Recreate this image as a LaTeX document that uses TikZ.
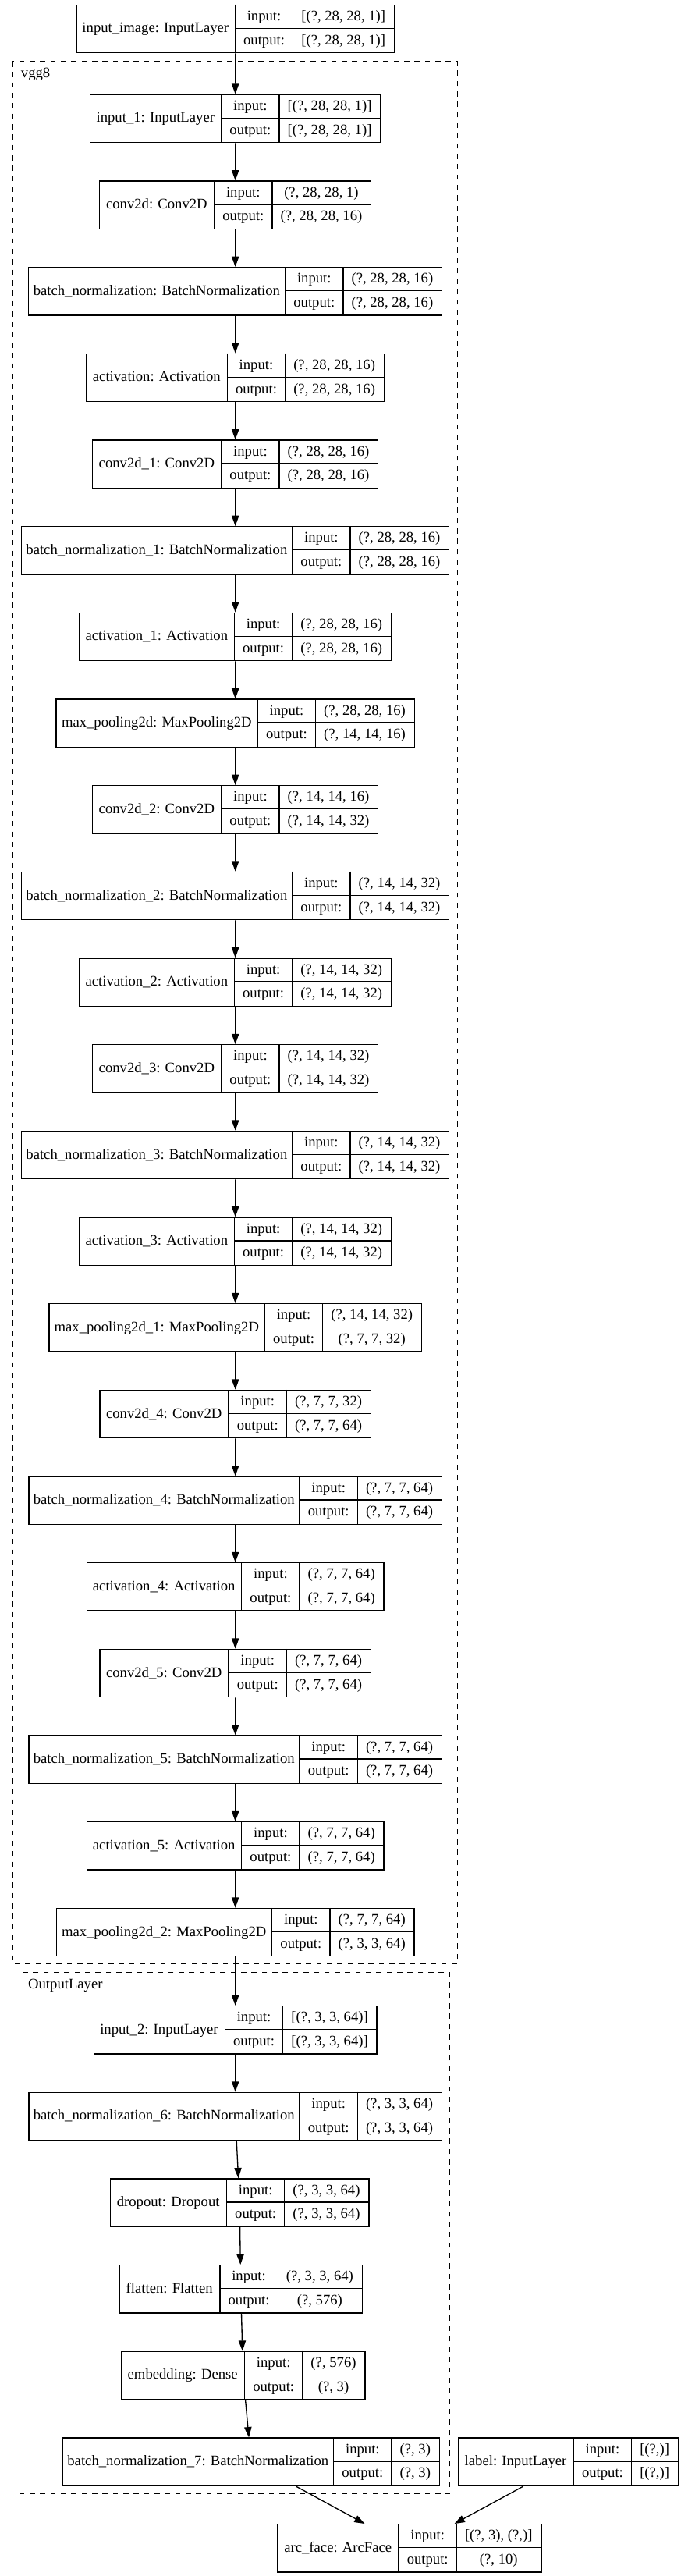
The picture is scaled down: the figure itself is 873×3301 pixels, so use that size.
\documentclass[tikz,border=0pt]{standalone}
\usepackage{fontspec}
\setmainfont{Liberation Serif}
\usetikzlibrary{arrows.meta}
\newlength\lpx \lpx=0.75pt
\newlength\lwa \newlength\lwb \newlength\lwc \newlength\lwt \newlength\ltot
\newlength\lxl \newlength\lxa \newlength\lxb \newlength\lxr
\newlength\lyt \newlength\lym \newlength\lyb
\newlength\lca \newlength\lcb \newlength\lcc
\newlength\lbu \newlength\lbd \newlength\lbc
\newcommand\lfont{\fontsize{14pt}{16.8pt}\selectfont}
% #1 name, #2 centre x (px), #3 top y (px), #4 label, #5 input shape, #6 output shape
\newcommand\layer[6]{%
  \settowidth\lwa{\lmeasurefont #4}\lwa=0.975\lwa \addtolength\lwa{16pt}%
  \settowidth\lwb{\lmeasurefont output:}\addtolength\lwb{16pt}%
  \settowidth\lwc{\lmeasurefont #5}\settowidth\lwt{\lmeasurefont #6}%
  \ifdim\lwt>\lwc \lwc=\lwt\fi
  \addtolength\lwc{16pt}%
  \ltot=\dimexpr\lwa+\lwb+\lwc\relax
  \lxl=\dimexpr #2\lpx-\ltot/2\relax
  \lxa=\dimexpr\lxl+\lwa\relax
  \lxb=\dimexpr\lxa+\lwb\relax
  \lxr=\dimexpr\lxb+\lwc\relax
  \lyt=-#3\lpx
  \lym=\dimexpr\lyt-23pt\relax
  \lyb=\dimexpr\lyt-46pt\relax
  \lca=\dimexpr(\lxl+\lxa)/2\relax
  \lcb=\dimexpr(\lxa+\lxb)/2\relax
  \lcc=\dimexpr(\lxb+\lxr)/2\relax
  \lbu=\dimexpr\lyt-15.5pt\relax
  \lbd=\dimexpr\lym-15.5pt\relax
  \lbc=\dimexpr\lym-4.2pt\relax
  \node[box, minimum width=\ltot, anchor=north west] (#1) at (\lxl,\lyt) {};
  \draw[rule] (\lxa,\lyt) -- (\lxa,\lyb) (\lxb,\lyt) -- (\lxb,\lyb) (\lxa,\lym) -- (\lxr,\lym);
  \node[txt] (#1n) at (\lca,\lbc) {#4};
  \node[txt] (#1i) at (\lcb,\lbu) {input:};
  \node[txt] (#1o) at (\lcb,\lbd) {output:};
  \node[txt] (#1is) at (\lcc,\lbu) {#5};
  \node[txt] (#1os) at (\lcc,\lbd) {#6};
}
\begin{document}
{\lfont\global\expandafter\let\expandafter\lmeasurefont\the\font}%
\begin{tikzpicture}[x=0.75pt,y=-0.75pt,
  box/.style={draw=black, line width=1pt, minimum height=46pt, inner sep=0pt},
  rule/.style={draw=black, line width=1pt},
  txt/.style={inner sep=0pt, anchor=base, font=\lfont},
  arr/.style={draw=black, line width=1pt, -{Triangle[length=10pt,width=7pt]}},
  cluster/.style={draw=black, line width=1pt, dash pattern=on 5pt off 5pt}]
\useasboundingbox (0,0) rectangle (873,3301);
\fill[white] (0,0) rectangle (873,3301);
% clusters
\draw[cluster] (16,79) rectangle (586.7,2516);
\node[txt, anchor=base west] (vgglab) at (26.7,99) {vgg8};
\draw[cluster] (25.2,2527.7) rectangle (576.5,3195);
\node[txt, anchor=base west] (outlab) at (35.9,2548) {OutputLayer};
% layers
\layer{n0}{301}{5.7}{input\_image: InputLayer}{[(?, 28, 28, 1)]}{[(?, 28, 28, 1)]}
\layer{n1}{301}{120.7}{input\_1: InputLayer}{[(?, 28, 28, 1)]}{[(?, 28, 28, 1)]}
\layer{n2}{301}{231.37}{conv2d: Conv2D}{(?, 28, 28, 1)}{(?, 28, 28, 16)}
\layer{n3}{301}{342.04}{batch\_normalization: BatchNormalization}{(?, 28, 28, 16)}{(?, 28, 28, 16)}
\layer{n4}{301}{452.71}{activation: Activation}{(?, 28, 28, 16)}{(?, 28, 28, 16)}
\layer{n5}{301}{563.38}{conv2d\_1: Conv2D}{(?, 28, 28, 16)}{(?, 28, 28, 16)}
\layer{n6}{301}{674.05}{batch\_normalization\_1: BatchNormalization}{(?, 28, 28, 16)}{(?, 28, 28, 16)}
\layer{n7}{301}{784.72}{activation\_1: Activation}{(?, 28, 28, 16)}{(?, 28, 28, 16)}
\layer{n8}{301}{895.39}{max\_pooling2d: MaxPooling2D}{(?, 28, 28, 16)}{(?, 14, 14, 16)}
\layer{n9}{301}{1006.06}{conv2d\_2: Conv2D}{(?, 14, 14, 16)}{(?, 14, 14, 32)}
\layer{n10}{301}{1116.73}{batch\_normalization\_2: BatchNormalization}{(?, 14, 14, 32)}{(?, 14, 14, 32)}
\layer{n11}{301}{1227.40}{activation\_2: Activation}{(?, 14, 14, 32)}{(?, 14, 14, 32)}
\layer{n12}{301}{1338.07}{conv2d\_3: Conv2D}{(?, 14, 14, 32)}{(?, 14, 14, 32)}
\layer{n13}{301}{1448.74}{batch\_normalization\_3: BatchNormalization}{(?, 14, 14, 32)}{(?, 14, 14, 32)}
\layer{n14}{301}{1559.41}{activation\_3: Activation}{(?, 14, 14, 32)}{(?, 14, 14, 32)}
\layer{n15}{301}{1670.08}{max\_pooling2d\_1: MaxPooling2D}{(?, 14, 14, 32)}{(?, 7, 7, 32)}
\layer{n16}{301}{1780.75}{conv2d\_4: Conv2D}{(?, 7, 7, 32)}{(?, 7, 7, 64)}
\layer{n17}{301}{1891.42}{batch\_normalization\_4: BatchNormalization}{(?, 7, 7, 64)}{(?, 7, 7, 64)}
\layer{n18}{301}{2002.09}{activation\_4: Activation}{(?, 7, 7, 64)}{(?, 7, 7, 64)}
\layer{n19}{301}{2112.76}{conv2d\_5: Conv2D}{(?, 7, 7, 64)}{(?, 7, 7, 64)}
\layer{n20}{301}{2223.43}{batch\_normalization\_5: BatchNormalization}{(?, 7, 7, 64)}{(?, 7, 7, 64)}
\layer{n21}{301}{2334.10}{activation\_5: Activation}{(?, 7, 7, 64)}{(?, 7, 7, 64)}
\layer{n22}{301}{2444.77}{max\_pooling2d\_2: MaxPooling2D}{(?, 7, 7, 64)}{(?, 3, 3, 64)}
\layer{n23}{301}{2570}{input\_2: InputLayer}{[(?, 3, 3, 64)]}{[(?, 3, 3, 64)]}
\layer{n24}{301}{2680.67}{batch\_normalization\_6: BatchNormalization}{(?, 3, 3, 64)}{(?, 3, 3, 64)}
\layer{n25}{306.5}{2791.34}{dropout: Dropout}{(?, 3, 3, 64)}{(?, 3, 3, 64)}
\layer{n26}{308}{2902.01}{flatten: Flatten}{(?, 3, 3, 64)}{(?, 576)}
\layer{n27}{311}{3012.68}{embedding: Dense}{(?, 576)}{(?, 3)}
\layer{n28}{321.3}{3123.35}{batch\_normalization\_7: BatchNormalization}{(?, 3)}{(?, 3)}
\layer{lab}{727.7}{3123.35}{label: InputLayer}{[(?,)]}{[(?,)]}
\layer{n29}{524.3}{3234.02}{arc\_face: ArcFace}{[(?, 3), (?,)]}{(?, 10)}
% connectors
\foreach \a/\b in {n0/n1,n1/n2,n2/n3,n3/n4,n4/n5,n5/n6,n6/n7,n7/n8,n8/n9,n9/n10,n10/n11,n11/n12,n12/n13,n13/n14,n14/n15,n15/n16,n16/n17,n17/n18,n18/n19,n19/n20,n20/n21,n21/n22,n22/n23,n23/n24,n24/n25,n25/n26,n26/n27,n27/n28,n28/n29,lab/n29}
  \draw[arr] (\a) -- (\b);
\end{tikzpicture}
\end{document}
